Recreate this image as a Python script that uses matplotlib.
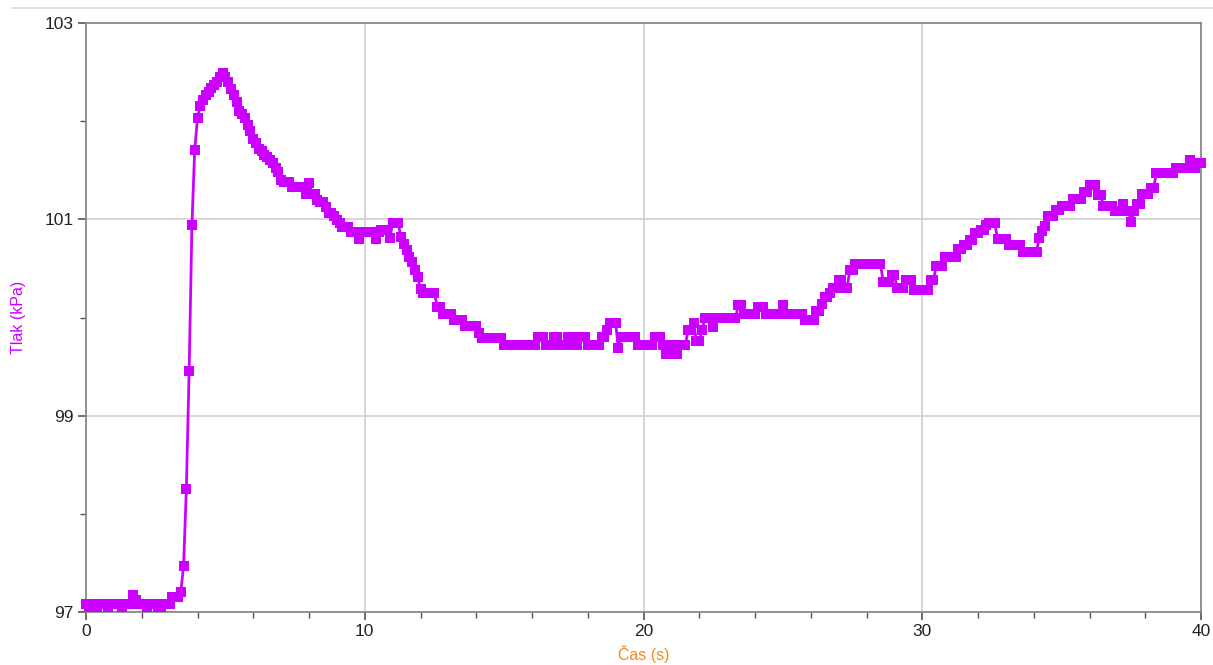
import numpy as np
import matplotlib
matplotlib.use("Agg")
import matplotlib.pyplot as plt
from matplotlib.ticker import MultipleLocator
from matplotlib.lines import Line2D

plt.rcParams['font.family'] = ['Liberation Sans', 'DejaVu Sans']

# time axis: one sample every 0.1 s, 0 .. 40 s
cas = np.round(np.arange(0, 401) * 0.1, 1)

# pressure readings (kPa), one row per second
tlak = [
    97.08, 97.05, 97.08, 97.08, 97.05, 97.08, 97.08, 97.08, 97.05, 97.08,
    97.08, 97.08, 97.08, 97.05, 97.08, 97.08, 97.08, 97.17, 97.12, 97.08,
    97.08, 97.08, 97.05, 97.08, 97.08, 97.08, 97.05, 97.05, 97.08, 97.08,
    97.08, 97.15, 97.15, 97.15, 97.20, 97.47, 98.25, 99.46, 100.94, 101.71,
    102.03, 102.15, 102.22, 102.27, 102.30, 102.34, 102.37, 102.40, 102.45, 102.49,
    102.45, 102.40, 102.33, 102.27, 102.20, 102.10, 102.07, 102.03, 101.96, 101.90,
    101.82, 101.78, 101.72, 101.70, 101.66, 101.64, 101.60, 101.57, 101.52, 101.48,
    101.40, 101.38, 101.38, 101.38, 101.33, 101.33, 101.33, 101.33, 101.33, 101.26,
    101.37, 101.26, 101.26, 101.20, 101.18, 101.18, 101.13, 101.06, 101.06, 101.03,
    100.99, 100.96, 100.92, 100.92, 100.92, 100.87, 100.87, 100.87, 100.80, 100.87,
    100.87, 100.87, 100.87, 100.87, 100.80, 100.87, 100.89, 100.89, 100.89, 100.81,
    100.96, 100.96, 100.96, 100.82, 100.75, 100.69, 100.62, 100.57, 100.48, 100.41,
    100.29, 100.25, 100.25, 100.25, 100.25, 100.25, 100.11, 100.11, 100.04, 100.04,
    100.04, 100.04, 99.97, 99.97, 99.97, 99.97, 99.91, 99.91, 99.91, 99.91,
    99.91, 99.84, 99.79, 99.79, 99.79, 99.79, 99.79, 99.79, 99.79, 99.79,
    99.72, 99.72, 99.72, 99.72, 99.72, 99.72, 99.72, 99.72, 99.72, 99.72,
    99.72, 99.72, 99.80, 99.80, 99.80, 99.72, 99.72, 99.72, 99.80, 99.80,
    99.72, 99.72, 99.72, 99.80, 99.80, 99.72, 99.72, 99.80, 99.80, 99.80,
    99.72, 99.72, 99.72, 99.72, 99.72, 99.80, 99.80, 99.87, 99.94, 99.94,
    99.94, 99.69, 99.80, 99.80, 99.80, 99.80, 99.80, 99.80, 99.72, 99.72,
    99.72, 99.72, 99.72, 99.72, 99.80, 99.80, 99.80, 99.72, 99.63, 99.63,
    99.72, 99.72, 99.63, 99.72, 99.72, 99.72, 99.87, 99.87, 99.94, 99.76,
    99.76, 99.87, 99.99, 99.99, 99.99, 99.90, 99.99, 99.99, 99.99, 99.99,
    99.99, 99.99, 99.99, 99.99, 100.13, 100.13, 100.04, 100.04, 100.04, 100.04,
    100.04, 100.11, 100.11, 100.11, 100.04, 100.04, 100.04, 100.04, 100.04, 100.04,
    100.13, 100.04, 100.04, 100.04, 100.04, 100.04, 100.04, 100.04, 99.97, 99.97,
    99.97, 99.97, 100.07, 100.07, 100.14, 100.21, 100.21, 100.25, 100.30, 100.30,
    100.38, 100.38, 100.30, 100.30, 100.48, 100.48, 100.55, 100.55, 100.55, 100.55,
    100.55, 100.55, 100.55, 100.55, 100.55, 100.55, 100.36, 100.36, 100.36, 100.43,
    100.43, 100.30, 100.30, 100.30, 100.38, 100.38, 100.38, 100.28, 100.28, 100.28,
    100.28, 100.28, 100.28, 100.38, 100.38, 100.52, 100.52, 100.52, 100.62, 100.62,
    100.62, 100.62, 100.62, 100.70, 100.70, 100.74, 100.74, 100.79, 100.79, 100.86,
    100.86, 100.89, 100.89, 100.94, 100.96, 100.96, 100.96, 100.80, 100.80, 100.80,
    100.80, 100.74, 100.74, 100.74, 100.74, 100.74, 100.67, 100.67, 100.67, 100.67,
    100.67, 100.67, 100.81, 100.88, 100.93, 101.03, 101.03, 101.03, 101.09, 101.09,
    101.14, 101.14, 101.14, 101.14, 101.21, 101.21, 101.21, 101.21, 101.28, 101.28,
    101.35, 101.35, 101.35, 101.25, 101.25, 101.14, 101.14, 101.14, 101.14, 101.08,
    101.08, 101.08, 101.16, 101.08, 101.08, 100.97, 101.08, 101.16, 101.16, 101.26,
    101.26, 101.26, 101.32, 101.32, 101.47, 101.47, 101.47, 101.47, 101.47, 101.47,
    101.47, 101.52, 101.52, 101.52, 101.52, 101.52, 101.60, 101.52, 101.52, 101.57,
    101.57,
]

x_ticks = [0, 10, 20, 30, 40]
y_ticks = [97, 99, 101, 103]

purple = '#CC00FF'
orange = '#F5871F'

fig = plt.figure(figsize=(12.13, 6.65), dpi=100)
ax = fig.add_axes([86 / 1213, 1 - 612 / 665, (1201 - 86) / 1213, (612 - 23) / 665])

# thin separator line at the very top
fig.add_artist(Line2D([12 / 1213, 1], [1 - 8 / 665, 1 - 8 / 665],
                      color='#dddddd', lw=1.2, transform=fig.transFigure))

ax.plot(cas, tlak, color=purple, lw=2.0, marker='s', markersize=6.8,
        markeredgewidth=0, zorder=3, clip_on=False)

ax.set_xlim(0, 40)
ax.set_ylim(97, 103)
ax.set_xticks(x_ticks)
ax.set_yticks(y_ticks)
ax.xaxis.set_minor_locator(MultipleLocator(2))
ax.yaxis.set_minor_locator(MultipleLocator(1))
ax.grid(True, which='major', color='#d0d0d0', lw=1.2)
ax.set_axisbelow(True)

for s in ax.spines.values():
    s.set_color('#8a8a8a')
    s.set_linewidth(1.3)

ax.tick_params(which='major', length=6, width=1.2, color='#555555',
               labelsize=12.5, labelcolor='#222222', pad=3)
ax.tick_params(which='minor', length=4, width=1.0, color='#555555')

ax.set_xlabel('Čas (s)', color=orange, fontsize=11.5, labelpad=4)
ax.set_ylabel('Tlak (kPa)', color=purple, fontsize=11.5, labelpad=13)

fig.savefig('out.png', dpi=100)
